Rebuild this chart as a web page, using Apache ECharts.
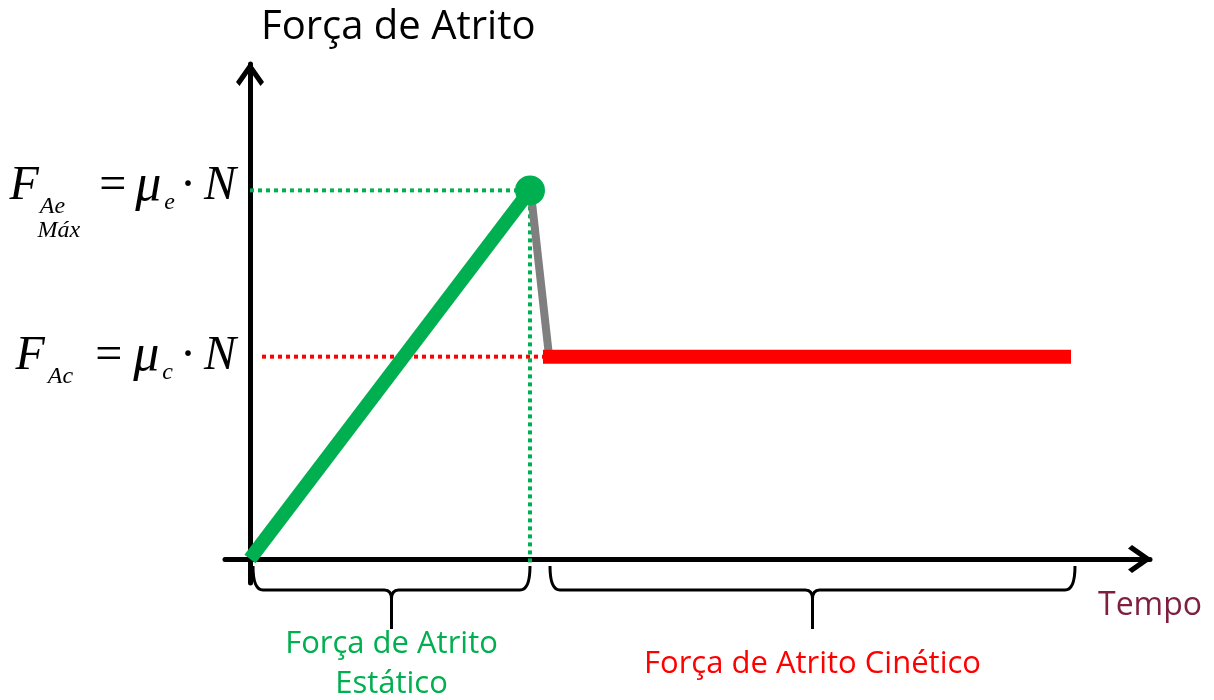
<!DOCTYPE html>
<html>
<head>
<meta charset="utf-8">
<script src="https://cdn.jsdelivr.net/npm/echarts@6/dist/echarts.min.js"></script>
<style>
  html, body { margin: 0; background: #fff; }
  #chart { width: 1214px; height: 700px; }
</style>
</head>
<body>
<div id="chart"></div>
<script>
// tempo (x) e força (y) em unidades arbitrárias
const staticT = [0, 2.8];
const staticF = [0, 7.67];
const dropT = [2.81, 2.99];
const dropF = [7.6, 4.23];
const kineticT = [2.93, 8.21];
const kineticF = [4.21, 4.21];
const levels = [7.67, 4.21];          // F_Ae máx, F_Ac
const redGuideStart = 0.12;
const braceStart = [0.03, 3.0];
const braceEnd = [2.8, 8.25];
const braceText = ['Força de Atrito\nEstático', 'Força de Atrito Cinético'];

const arrowPath = 'path://M14,0 L28,20 L24.5,24 L14,9 L3.5,24 L0,20 Z';
const green = '#00B050', red = '#FF0000';

function pairs(xs, ys) {
  return xs.map(function (x, i) { return [x, ys[i]]; });
}

function dotted(color, data) {
  return {
    type: 'line', data: data, symbol: 'none', silent: true, z: 1,
    lineStyle: { color: color, width: 4, type: [4, 4], cap: 'butt' }
  };
}

function solid(color, width, data) {
  return {
    type: 'line', data: data, symbol: 'none', silent: true, z: 2,
    lineStyle: { color: color, width: width, cap: 'butt' }
  };
}

const serif = '"Liberation Serif", "Times New Roman", serif';
function tok(size, italic, pad, lh) {
  return {
    fontFamily: serif, fontStyle: italic ? 'italic' : 'normal', fontSize: size,
    lineHeight: lh || 50, color: '#000', align: 'left', padding: pad || [0, 0, 0, 0]
  };
}
const rich = {
  top: { fontSize: 10, lineHeight: 30, align: 'left' },
  F: tok(48, true, [0, 1, 0, 0]),
  F2: tok(48, true, [0, 3, 0, 0]),
  s1: tok(24, true, [40, 0, 0, 0]),
  eq: tok(48, false, [0, 9, 0, 34]),
  eq2: tok(48, false, [0, 11, 0, 22]),
  mu: tok(52, true, [0, 3, 0, 0]),
  s2: tok(24, true, [32, 0, 0, 0]),
  dot: tok(48, false, [0, 8, 0, 5]),
  dot2: tok(48, false, [0, 8, 0, 7]),
  N: tok(48, true),
  max: tok(24, true, [0, 0, 0, 28], 38)
};

const chart = echarts.init(document.getElementById('chart'));
chart.setOption({
  animation: false,
  backgroundColor: '#fff',
  title: {
    text: 'Força de Atrito',
    left: 256,
    top: 3,
    textStyle: { fontFamily: 'Open Sans', fontSize: 40, fontWeight: 'normal', color: '#000' }
  },
  grid: { left: 225, right: 64, top: 64, bottom: 117, outerBoundsMode: 'none' },
  xAxis: {
    type: 'value', min: -0.25, max: 9,
    axisLine: {
      onZero: true,
      symbol: ['none', arrowPath], symbolSize: [28, 25], symbolOffset: [0, -10],
      lineStyle: { color: '#000', width: 5 }
    },
    axisTick: { show: false }, axisLabel: { show: false }, splitLine: { show: false },
    name: 'Tempo', nameLocation: 'end', nameGap: -52,
    nameTextStyle: { color: '#7F1F3F', fontFamily: 'Open Sans', fontSize: 32, verticalAlign: 'top', padding: [31, 0, 0, 0] }
  },
  yAxis: {
    type: 'value', min: -0.5, max: 10.3,
    axisLine: {
      onZero: true,
      symbol: ['none', arrowPath], symbolSize: [28, 25], symbolOffset: [0, -10],
      lineStyle: { color: '#000', width: 5 }
    },
    axisTick: { show: false }, splitLine: { show: false },
    axisLabel: {
      customValues: levels,
      margin: -11,
      rich: rich,
      formatter: function (v) {
        if (Math.abs(v - levels[0]) < 1e-6) {
          return '{top| }\n{F|F}{s1|Ae}{eq|=}{mu|μ}{s2|e}{dot|·}{N|N}\n{max|Máx}';
        }
        return '{F2|F}{s1|Ac}{eq2|=}{mu|μ}{s2|c}{dot2|·}{N|N}';
      }
    }
  },
  series: [
    dotted(green, [[0, levels[0]], [staticT[1], levels[0]]]),
    dotted(green, [[staticT[1], levels[0]], [staticT[1], -0.15]]),
    dotted(red, [[redGuideStart, levels[1]], [kineticT[0], levels[1]]]),
    solid('#7F7F7F', 8, pairs(dropT, dropF)),
    solid(green, 14, pairs(staticT, staticF)),
    solid(red, 14, pairs(kineticT, kineticF)),
    {
      type: 'scatter', data: [[staticT[1], staticF[1]]], symbolSize: 30, silent: true, z: 3,
      itemStyle: { color: green, opacity: 1 }
    },
    {
      type: 'custom', coordinateSystem: 'cartesian2d', silent: true, clip: false,
      data: braceStart.map(function (s, i) { return [s, braceEnd[i]]; }),
      encode: { x: [0, 1] },
      renderItem: function (params, api) {
        const a = api.coord([api.value(0), 0]);
        const b = api.coord([api.value(1), 0]);
        const top = a[1] + 7, low = top + 24, tip = top + 63;
        const m = (a[0] + b[0]) / 2;
        const d = 'M' + a[0] + ',' + top +
          ' Q' + a[0] + ',' + low + ' ' + (a[0] + 10) + ',' + low +
          ' L' + (m - 7) + ',' + low +
          ' Q' + m + ',' + low + ' ' + m + ',' + (low + 9) +
          ' L' + m + ',' + tip +
          ' M' + m + ',' + (low + 9) +
          ' Q' + m + ',' + low + ' ' + (m + 7) + ',' + low +
          ' L' + (b[0] - 10) + ',' + low +
          ' Q' + b[0] + ',' + low + ' ' + b[0] + ',' + top;
        const i = params.dataIndex;
        return {
          type: 'group',
          children: [
            { type: 'path', shape: { pathData: d }, style: { stroke: '#000', lineWidth: 3, fill: 'none' } },
            {
              type: 'text', x: m, y: a[1] + 105,
              style: {
                text: braceText[i], fill: i === 0 ? green : red,
                fontFamily: 'Open Sans', fontSize: 31, lineHeight: 40,
                align: 'center', verticalAlign: 'middle'
              }
            }
          ]
        };
      }
    }
  ]
});
</script>
</body>
</html>
